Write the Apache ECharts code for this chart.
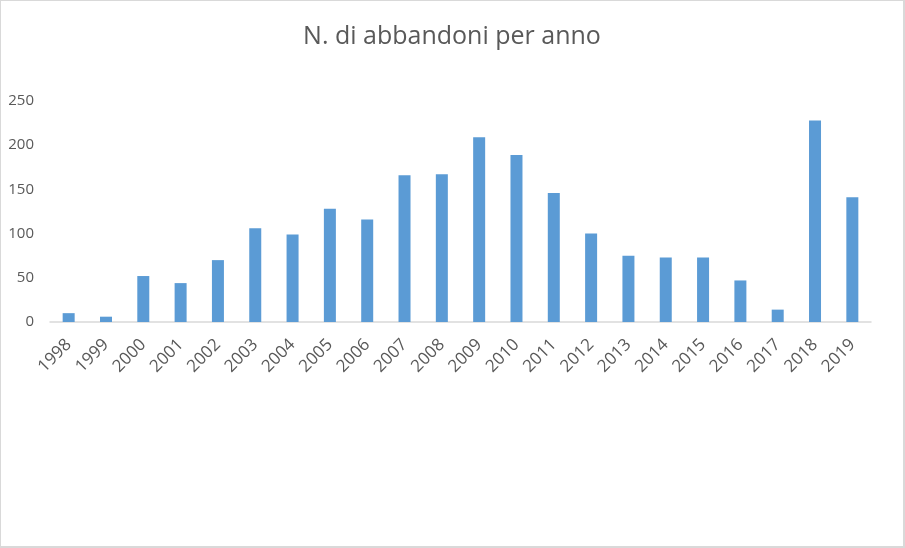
<!DOCTYPE html>
<html>
  <head>
    <meta charset="utf-8" />
    <title>N. di abbandoni per anno</title>
    <script src="https://cdn.jsdelivr.net/npm/echarts@6.0.0/dist/echarts.min.js"></script>
    <style>
      html, body { margin: 0; padding: 0; background: #fff; }
      #frame {
        position: absolute; left: 0; top: 0;
        width: 905px; height: 548px; box-sizing: border-box;
        border-top: 1px solid #d9d9d9; border-left: 1px solid #d9d9d9;
        border-right: 2px solid #d9d9d9; border-bottom: 2px solid #d9d9d9;
      }
      #chart { width: 902px; height: 545px; }
    </style>
  </head>
  <body>
    <div id="frame"><div id="chart"></div></div>
    <script>
      // dati
      var anni = ['1998', '1999', '2000', '2001', '2002', '2003', '2004', '2005', '2006', '2007', '2008',
                  '2009', '2010', '2011', '2012', '2013', '2014', '2015', '2016', '2017', '2018', '2019'];
      var abbandoni = [10, 6, 52, 44, 70, 106, 99, 128, 116, 166, 167,
                       209, 189, 146, 100, 75, 73, 73, 47, 14, 228, 141];

      var myChart = echarts.init(document.getElementById('chart'));
      var testo = '#595959';

      var option = {
        animation: false,
        title: {
          text: 'N. di abbandoni per anno',
          left: 'center',
          top: 18,
          textStyle: { fontFamily: 'Open Sans', fontSize: 25, fontWeight: 'normal', color: testo }
        },
        grid: { left: 49, right: 32, top: 100, bottom: 224 },
        xAxis: {
          type: 'category',
          data: anni,
          axisLine: { lineStyle: { color: '#d9d9d9', width: 1.5 } },
          axisTick: { show: false },
          axisLabel: {
            rotate: 45,
            interval: 0,
            margin: 20,
            fontFamily: 'Open Sans',
            fontSize: 17,
            color: testo
          }
        },
        yAxis: {
          type: 'value',
          min: 0,
          max: 250,
          interval: 50,
          splitLine: { show: false },
          axisLine: { show: false },
          axisTick: { show: false },
          axisLabel: { margin: 16, fontFamily: 'Open Sans', fontSize: 15, color: testo }
        },
        series: [
          {
            name: 'Abbandoni',
            type: 'bar',
            data: abbandoni,
            barWidth: 12,
            itemStyle: { color: '#5b9bd5' }
          }
        ]
      };

      myChart.setOption(option);
    </script>
  </body>
</html>
